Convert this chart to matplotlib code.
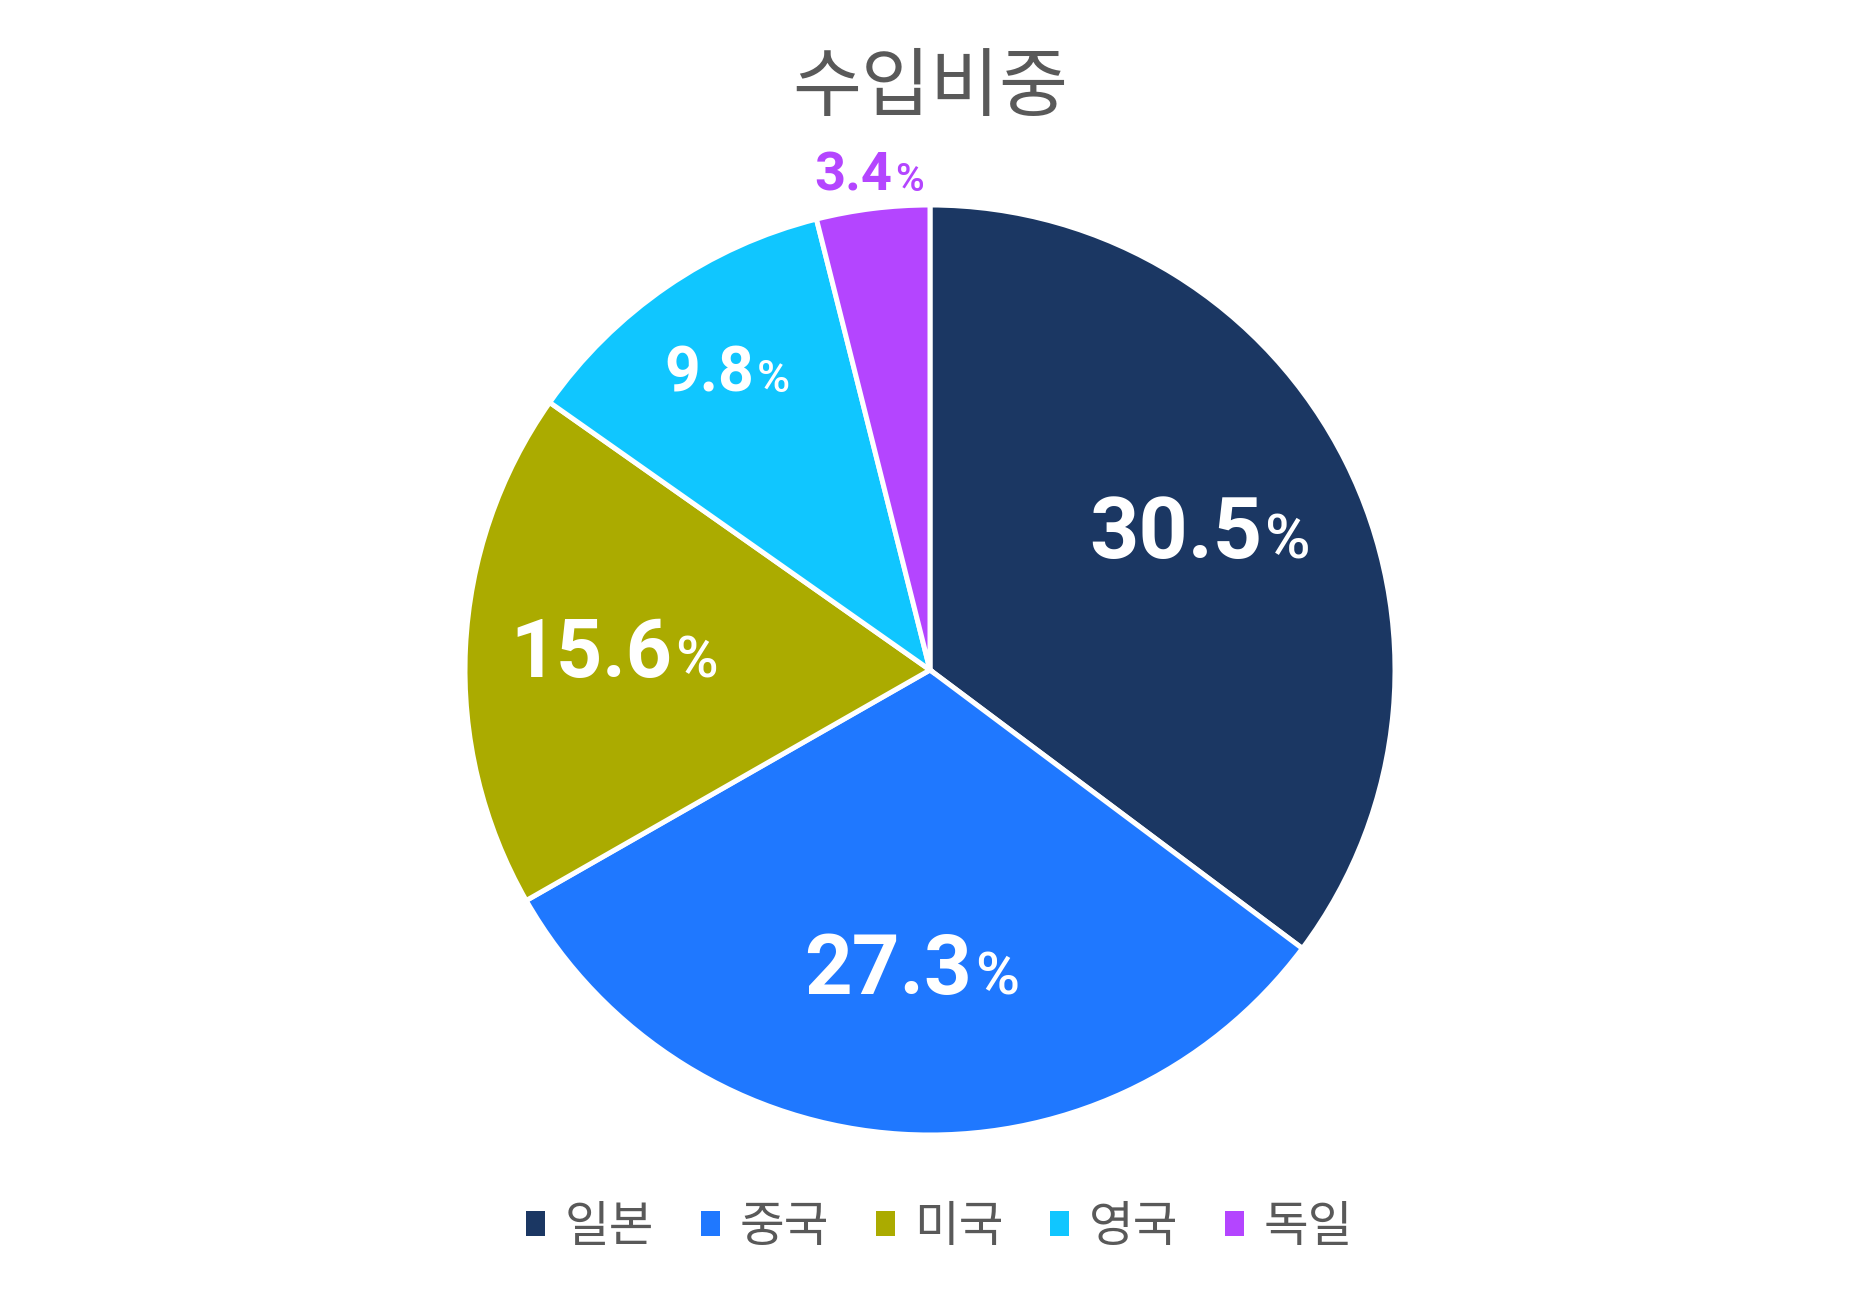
import matplotlib
matplotlib.use("Agg")
import matplotlib.pyplot as plt
from matplotlib.patches import Rectangle
from matplotlib.offsetbox import TextArea, HPacker, AnnotationBbox
import numpy as np

# ---- data ----
title = "수입비중"
categories = ["일본", "중국", "미국", "영국", "독일"]
values = [30.5, 27.3, 15.6, 9.8, 3.4]
value_labels = ["30.5", "27.3", "15.6", "9.8", "3.4"]

# ---- style ----
colors = ["#1B3763", "#1F78FF", "#ABAB00", "#10C6FF", "#B445FF"]
label_dist = [0.65, 0.65, 0.68, 0.77, 1.07]
label_size = [62, 60, 58, 45, 39]
label_color = ["white", "white", "white", "white", "#B445FF"]
text_gray = "#595959"
KR = ["Noto Sans CJK KR", "DejaVu Sans"]
NUM = ["Roboto", "DejaVu Sans"]

W, H = 1859, 1302
fig = plt.figure(figsize=(W / 100, H / 100), dpi=100)
ax = fig.add_axes([0, 0, 1, 1])
cx, cy, R = 930, H - 670, 465
wedges, _ = ax.pie(values, colors=colors, startangle=90, counterclock=False,
                   center=(cx, cy), radius=R, frame=True,
                   wedgeprops=dict(edgecolor="white", linewidth=3.6))
ax.set_xlim(0, W)
ax.set_ylim(0, H)
ax.set_aspect("equal")
ax.axis("off")

for w, lab, d, fs, col in zip(wedges, value_labels, label_dist, label_size, label_color):
    th = np.deg2rad((w.theta1 + w.theta2) / 2)
    x = cx + d * R * np.cos(th)
    y = cy + d * R * np.sin(th)
    t1 = TextArea(lab, textprops=dict(fontsize=fs, fontweight="bold", color=col, family=NUM))
    t2 = TextArea("%", textprops=dict(fontsize=fs * 0.72, fontweight="medium", color=col, family=NUM))
    pk = HPacker(children=[t1, t2], align="baseline", pad=0, sep=2)
    ab = AnnotationBbox(pk, (x, y), frameon=False, box_alignment=(0.5, 0.5), pad=0)
    ax.add_artist(ab)

ax.text(cx, H - 88, title, ha="center", va="center", fontsize=54, color=text_gray, family=KR)

handles = [Rectangle((0, 0), 1, 1, facecolor=c, edgecolor="none") for c in colors]
leg = fig.legend(handles, categories, loc="center", bbox_to_anchor=(0.5054, 75 / H), ncol=5,
                 frameon=False, prop=dict(family=KR, size=35),
                 handlelength=0.39, handleheight=0.42, handletextpad=0.40,
                 columnspacing=0.96, borderaxespad=0, borderpad=0)
for t in leg.get_texts():
    t.set_color(text_gray)

fig.savefig("out.png", dpi=100, facecolor="white")
